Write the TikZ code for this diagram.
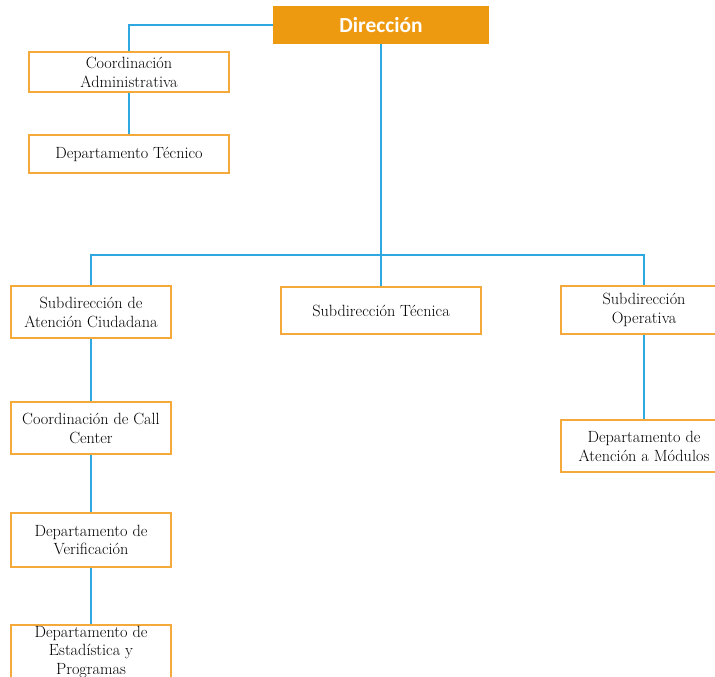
\documentclass[tikz,border=0pt]{standalone}
\usepackage{fontspec}
\newfontfamily\headfont{Carlito}
\definecolor{naranja}{HTML}{EE9A10}
\definecolor{borde}{HTML}{F5A93A}
\definecolor{linea}{HTML}{2DA8E0}
\begin{document}
\begin{tikzpicture}
	[x=1bp,y=-1bp,
	every node/.style={draw=borde,line width=1.8bp,align=center,inner sep=1pt,
		font=\fontsize{16.3}{19}\selectfont},
	cabeza/.style={fill=naranja,draw=naranja,text=white,
		font=\headfont\bfseries\fontsize{21.5}{24}\selectfont,minimum width=215bp,minimum height=36bp},
	ancho/.style={minimum width=200bp},
	medio/.style={minimum width=160bp,minimum height=52bp},
	derecho/.style={minimum width=166bp},
	conector/.style={draw=linea,line width=1.8bp}
	]
	\useasboundingbox (0,0) rectangle (715,677);
	\node[cabeza] (dir) at (381,25) {Dirección};
	\node[ancho,minimum height=40bp] (coordadm) at (129,72) {Coordinación\\Administrativa};
	\node[ancho,minimum height=38bp] (deptec) at (129,154) {Departamento Técnico};
	\node[medio] (subciu) at (91,312) {Subdirección de\\Atención Ciudadana};
	\node[ancho,minimum height=47bp] (subtec) at (381,310.5) {Subdirección Técnica};
	\node[derecho,minimum height=48bp] (subop) at (644,310) {Subdirección\\Operativa};
	\node[derecho,minimum height=52bp] (depmod) at (644,446) {Departamento de\\Atención a Módulos};
	\node[medio] (callc) at (91,428) {Coordinación de Call\\Center};
	\node[medio,minimum height=54bp] (depver) at (91,540) {Departamento de\\Verificación};
	\node[medio,minimum height=54bp] (depest) at (91,652) {Departamento de\\Estadística y\\Programas};
	\coordinate (bus) at (381,255);
	\draw[conector] (dir.west) -| (coordadm.north);
	\draw[conector] (coordadm) -- (deptec);
	\draw[conector] (dir) -- (bus);
	\draw[conector] (subciu.north) |- (bus) -| (subop.north);
	\draw[conector] (bus) -- (subtec.north);
	\draw[conector] (subciu) -- (callc);
	\draw[conector] (callc) -- (depver);
	\draw[conector] (depver) -- (depest);
	\draw[conector] (subop) -- (depmod);
\end{tikzpicture}
\end{document}
